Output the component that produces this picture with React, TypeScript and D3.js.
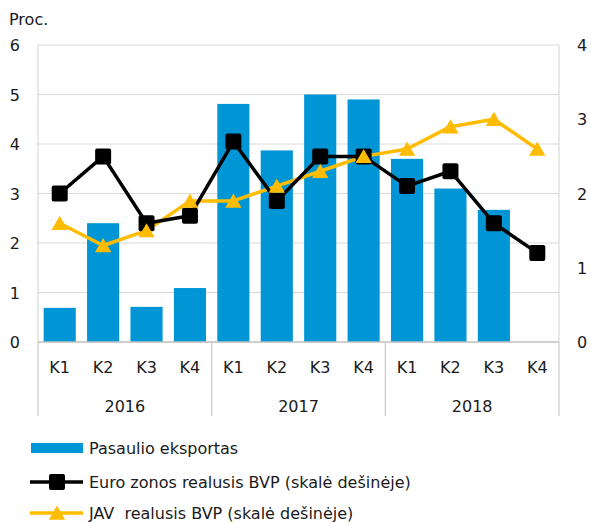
import React from 'react';
import * as d3 from 'd3';

// values
const quarters = ['K1', 'K2', 'K3', 'K4', 'K1', 'K2', 'K3', 'K4', 'K1', 'K2', 'K3', 'K4'];
const years = ['2016', '2017', '2018'];
const worldExports = [0.69, 2.4, 0.71, 1.09, 4.81, 3.87, 5.0, 4.9, 3.7, 3.1, 2.67, null];
const euroGdp = [2.0, 2.5, 1.6, 1.7, 2.7, 1.9, 2.5, 2.5, 2.1, 2.3, 1.6, 1.2];
const usGdp = [1.6, 1.3, 1.5, 1.9, 1.9, 2.1, 2.3, 2.5, 2.6, 2.9, 3.0, 2.6];
const leftTicks = [0, 1, 2, 3, 4, 5, 6];
const rightTicks = [0, 1, 2, 3, 4];
const seriesNames = [
  'Pasaulio eksportas',
  'Euro zonos realusis BVP (skalė dešinėje)',
  'JAV  realusis BVP (skalė dešinėje)',
];

const BLUE = '#0096D6';
const YELLOW = '#FFBC00';
const INK = '#1a1a1a';
const FONT = 'DejaVu Sans, Verdana, sans-serif';

const App = () => {
  const width = 591, height = 523;
  const margin = { top: 45, right: 32, bottom: 181, left: 38 };
  const x0 = margin.left, x1 = width - margin.right;
  const y0 = height - margin.bottom, y1 = margin.top;

  const idx = quarters.map((_, i) => i);
  const x = d3.scaleBand<number>().domain(idx).range([x0, x1]).paddingInner(0.26).paddingOuter(0.13);
  const cx = (i: number) => (x(i) as number) + x.bandwidth() / 2;
  const yL = d3.scaleLinear().domain([0, 6]).range([y0, y1]);
  const yR = d3.scaleLinear().domain([0, 4]).range([y0, y1]);

  const rightLine = d3.line<number>().x((_, i) => cx(i)).y(d => yR(d));
  const tri = d3.symbol().type(d3.symbolTriangle).size(115)();

  const step = (x1 - x0) / quarters.length;
  const yearEdges = d3.range(years.length + 1).map(k => x0 + k * step * 4);

  const legendY = [448, 482, 513];

  return (
    <svg width={width} height={height} style={{ position: 'absolute', left: 0, top: 0, background: '#fff' }}
      fontFamily={FONT}>
      <text x={9} y={25} fontSize={16} fill={INK}>Proc.</text>

      {/* gridlines */}
      {leftTicks.slice(1).map(t => (
        <line key={t} x1={x0} x2={x1} y1={yL(t)} y2={yL(t)} stroke="#d9d9d9" strokeWidth={1.2} />
      ))}
      <line x1={x0} x2={x0} y1={y1} y2={y0} stroke="#d9d9d9" strokeWidth={1.2} />
      <line x1={x1} x2={x1} y1={y1} y2={y0} stroke="#d9d9d9" strokeWidth={1.2} />

      {/* bars */}
      {worldExports.map((v, i) => v == null ? null : (
        <rect key={i} x={x(i)} width={x.bandwidth()} y={yL(v)} height={y0 - yL(v)} fill={BLUE} />
      ))}

      {/* axis */}
      <line x1={x0} x2={x1} y1={y0} y2={y0} stroke="#bfbfbf" strokeWidth={1.5} />
      {yearEdges.map((e, k) => (
        <line key={k} x1={e} x2={e} y1={y0} y2={416} stroke="#c8c8c8" strokeWidth={1.2} />
      ))}
      {quarters.map((q, i) => (
        <text key={i} x={cx(i)} y={373} fontSize={16} textAnchor="middle" fill={INK}>{q}</text>
      ))}
      {years.map((yr, k) => (
        <text key={yr} x={(yearEdges[k] + yearEdges[k + 1]) / 2} y={412} fontSize={16} textAnchor="middle" fill={INK}>{yr}</text>
      ))}

      {leftTicks.map(t => (
        <text key={t} x={20} y={yL(t) + 6} fontSize={16} textAnchor="end" fill={INK}>{t}</text>
      ))}
      {rightTicks.map(t => (
        <text key={t} x={577} y={yR(t) + 6} fontSize={16} fill={INK}>{t}</text>
      ))}

      {/* lines */}
      <path d={rightLine(usGdp) || ''} fill="none" stroke={YELLOW} strokeWidth={3.5} strokeLinejoin="round" />
      <path d={rightLine(euroGdp) || ''} fill="none" stroke="#000" strokeWidth={3.5} strokeLinejoin="round" />
      {euroGdp.map((v, i) => (
        <rect key={i} x={cx(i) - 8} y={yR(v) - 8} width={16} height={16} rx={2} fill="#000" />
      ))}
      {usGdp.map((v, i) => (
        <path key={i} d={tri || ''} transform={`translate(${cx(i)},${yR(v) + 2})`} fill={YELLOW} />
      ))}

      {/* legend */}
      <rect x={31} y={legendY[0] - 5} width={52} height={10} fill={BLUE} />
      <line x1={30} x2={83} y1={legendY[1]} y2={legendY[1]} stroke="#000" strokeWidth={3.5} />
      <rect x={49} y={legendY[1] - 8} width={16} height={16} rx={2} fill="#000" />
      <line x1={30} x2={83} y1={legendY[2]} y2={legendY[2]} stroke={YELLOW} strokeWidth={3.5} />
      <path d={tri || ''} transform={`translate(57,${legendY[2] + 2})`} fill={YELLOW} />
      {seriesNames.map((s, k) => (
        <text key={k} x={89} y={legendY[k] + 6} fontSize={16} fill={INK} style={{ whiteSpace: 'pre' }}>{s}</text>
      ))}
    </svg>
  );
};

export default App;
